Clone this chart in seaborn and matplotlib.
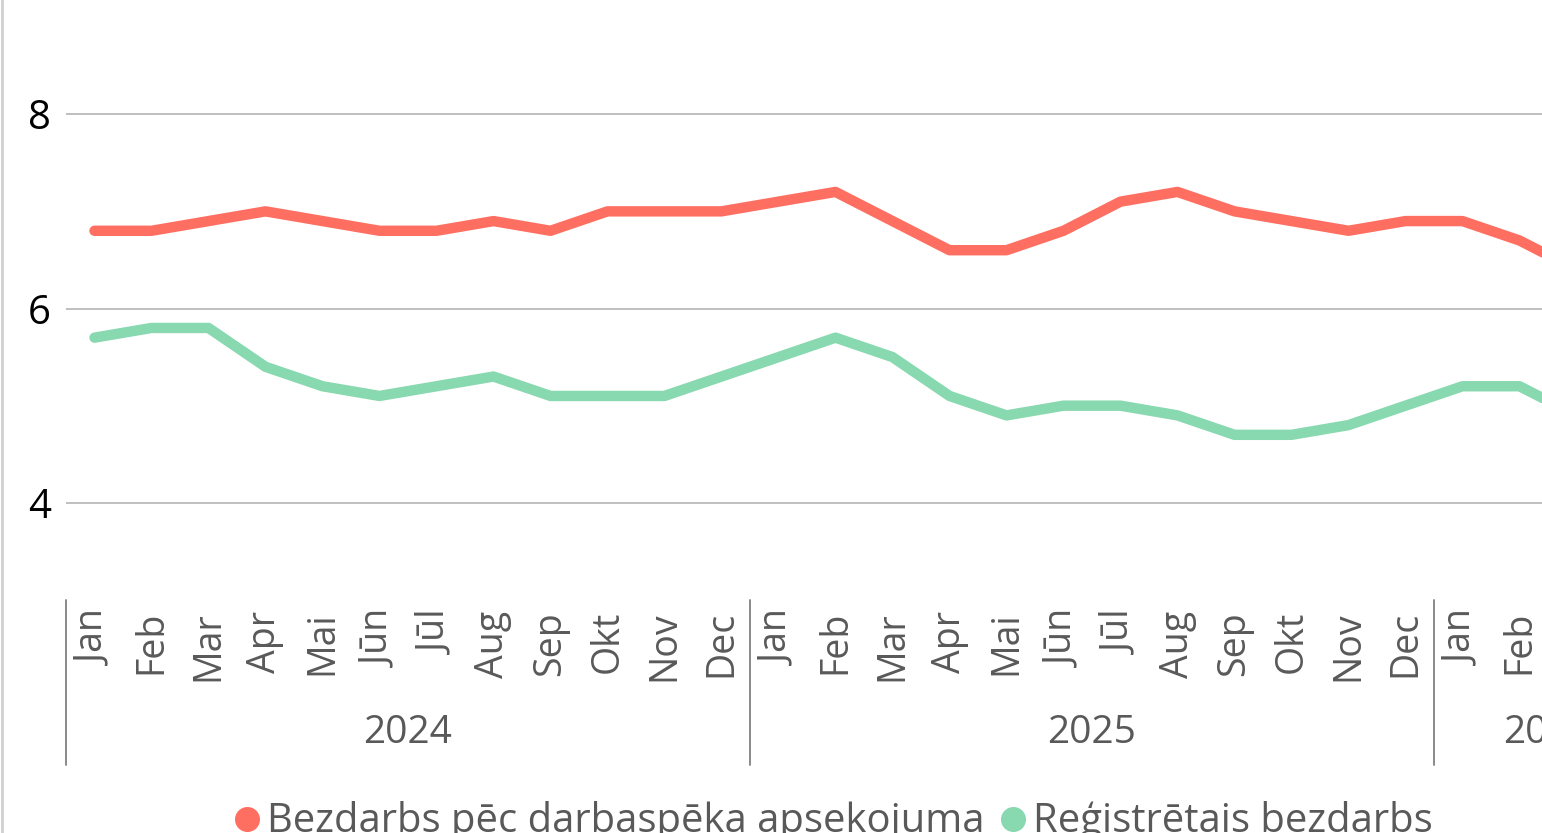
import numpy as np
import pandas as pd
import matplotlib
matplotlib.use("Agg")
import matplotlib.pyplot as plt
from matplotlib.lines import Line2D
import seaborn as sns

months = ["Jan", "Feb", "Mar", "Apr", "Mai", "Jūn", "Jūl", "Aug", "Sep", "Okt", "Nov", "Dec",
          "Jan", "Feb", "Mar", "Apr", "Mai", "Jūn", "Jūl", "Aug", "Sep", "Okt", "Nov", "Dec",
          "Jan", "Feb", "Mar", "Apr"]
years = ["2024", "2025", "2026"]
year_lengths = [12, 12, 4]

# last month (Apr 2026) lies outside the visible picture -> unknown (NaN)
survey = [6.8, 6.8, 6.9, 7.0, 6.9, 6.8, 6.8, 6.9, 6.8, 7.0, 7.0, 7.0,
          7.1, 7.2, 6.9, 6.6, 6.6, 6.8, 7.1, 7.2, 7.0, 6.9, 6.8, 6.9,
          6.9, 6.7, 6.4, np.nan]
registered = [5.7, 5.8, 5.8, 5.4, 5.2, 5.1, 5.2, 5.3, 5.1, 5.1, 5.1, 5.3,
              5.5, 5.7, 5.5, 5.1, 4.9, 5.0, 5.0, 4.9, 4.7, 4.7, 4.8, 5.0,
              5.2, 5.2, 4.9, np.nan]
series_names = ["Bezdarbs pēc darbaspēka apsekojuma", "Reģistrētais bezdarbs"]
colors = ["#FF6F61", "#88D8B0"]
yticks = [4, 6, 8]

sns.set_theme(style="white")
plt.rcParams["font.family"] = ["Open Sans", "DejaVu Sans"]

W, H = 1542, 833
fig = plt.figure(figsize=(W / 100, H / 100), dpi=100)

n = len(months)
cat_w = 57.0
left_px = 66
right_px = left_px + cat_w * n
ax = fig.add_axes([left_px / W, 1 - 600 / H, (right_px - left_px) / W, 600 / H])

df = pd.DataFrame({
    "x": list(range(n)) * 2,
    "value": survey + registered,
    "series": [series_names[0]] * n + [series_names[1]] * n,
})
sns.lineplot(data=df.dropna(), x="x", y="value", hue="series", palette=colors, ax=ax,
             linewidth=7.5, legend=False, sort=False)
for ln in ax.get_lines():
    ln.set_solid_capstyle("round")
    ln.set_solid_joinstyle("round")
    ln.set_zorder(3)

ax.set_xlim(-0.5, n - 0.5)
ax.set_ylim(3.0, 8 + 114 / 97)
ax.set_yticks(yticks)
ax.set_yticklabels([str(v) for v in yticks], fontsize=29, color="black")
ax.yaxis.grid(True, color="#BFBFBF", linewidth=1.4)
ax.set_axisbelow(True)
ax.tick_params(axis="y", length=0, pad=11)
ax.set_xticks(range(n))
ax.set_xticklabels(months, rotation=90, fontsize=27, color="#595959")
ax.tick_params(axis="x", length=0, pad=8)
for lab in ax.get_xticklabels():
    lab.set_verticalalignment("top")
ax.set_xlabel("")
ax.set_ylabel("")
for s in ax.spines.values():
    s.set_visible(False)

# year group labels and separators
trans = ax.get_xaxis_transform()
start = 0
sep_y0 = 0.0
sep_y1 = -(765 - 600) / 600
for yr, ln_ in zip(years, year_lengths):
    x0 = start - 0.5
    ax.add_line(Line2D([x0, x0], [sep_y0, sep_y1], transform=trans, color="#808080",
                       linewidth=1.3, clip_on=False))
    ax.text(start - 0.5 + ln_ / 2, -(733 - 600) / 600, yr, transform=trans,
            ha="center", va="center", fontsize=28, color="#595959")
    start += ln_

# left chart border
fig.add_artist(Line2D([2 / W, 2 / W], [0, 1], transform=fig.transFigure,
                      color="#D0D0D0", linewidth=2))

handles = [Line2D([], [], linestyle="none", marker="o", markersize=17,
                  markerfacecolor=c, markeredgecolor=c) for c in colors]
fig.legend(handles, series_names, loc="center", bbox_to_anchor=(830 / W, 1 - 822 / H),
           ncol=2, frameon=False, fontsize=28.8, labelcolor="#595959",
           handletextpad=0.0, columnspacing=0.2, handlelength=1.0, borderpad=0)

fig.savefig("out.png", dpi=100)
